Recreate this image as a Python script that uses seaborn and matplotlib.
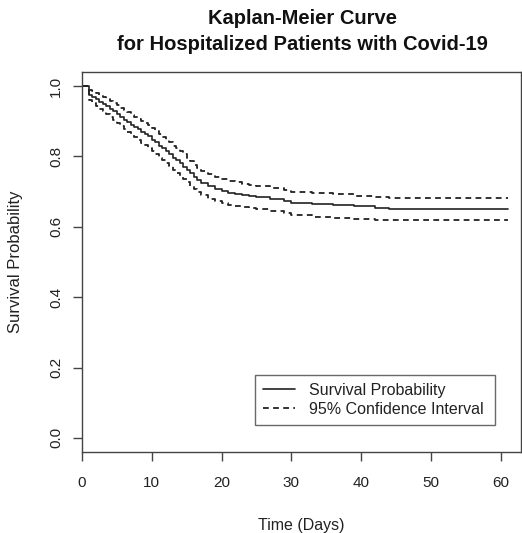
import matplotlib
matplotlib.use("Agg")
import matplotlib.pyplot as plt
import seaborn as sns
import pandas as pd

# ---- data ----
days = [0, 1, 1.5, 2, 2.5, 3, 3.5, 4, 4.5, 5, 5.5, 6, 6.5, 7, 7.5, 8, 8.5, 9, 9.5,
        10, 10.5, 11, 11.5, 12, 12.5, 13, 13.5, 14, 14.5, 15, 15.5, 16, 16.5, 17,
        18, 19, 20, 21, 22, 23, 24, 25, 27, 29, 30, 33, 36, 39, 42, 44, 48, 61]
survival = [1.0, 0.975, 0.97, 0.962, 0.955, 0.948, 0.942, 0.935, 0.928, 0.92, 0.913,
            0.905, 0.898, 0.89, 0.884, 0.877, 0.87, 0.864, 0.857, 0.848, 0.84, 0.83,
            0.823, 0.815, 0.806, 0.797, 0.789, 0.78, 0.771, 0.762, 0.752, 0.742,
            0.733, 0.725, 0.715, 0.708, 0.702, 0.697, 0.694, 0.69, 0.687, 0.684,
            0.68, 0.673, 0.669, 0.664, 0.661, 0.658, 0.654, 0.652, 0.65, 0.65]
upper_ci = [1.0, 0.99, 0.986, 0.98, 0.975, 0.969, 0.964, 0.958, 0.952, 0.945, 0.939,
            0.932, 0.926, 0.919, 0.913, 0.907, 0.9, 0.894, 0.888, 0.88, 0.872, 0.863,
            0.856, 0.848, 0.84, 0.831, 0.823, 0.815, 0.806, 0.797, 0.787, 0.777,
            0.768, 0.76, 0.75, 0.742, 0.735, 0.73, 0.726, 0.722, 0.718, 0.715,
            0.71, 0.704, 0.7, 0.695, 0.692, 0.688, 0.685, 0.683, 0.681, 0.681]
lower_ci = [1.0, 0.96, 0.953, 0.944, 0.936, 0.928, 0.92, 0.912, 0.904, 0.895, 0.887,
            0.878, 0.87, 0.861, 0.854, 0.846, 0.839, 0.832, 0.825, 0.815, 0.807, 0.797,
            0.789, 0.781, 0.772, 0.762, 0.754, 0.745, 0.736, 0.727, 0.717, 0.707,
            0.698, 0.69, 0.68, 0.673, 0.667, 0.662, 0.659, 0.656, 0.653, 0.65,
            0.645, 0.638, 0.634, 0.629, 0.626, 0.623, 0.62, 0.619, 0.618, 0.618]
x_ticks = [0, 10, 20, 30, 40, 50, 60]
y_ticks = [0.0, 0.2, 0.4, 0.6, 0.8, 1.0]

df = pd.DataFrame({"days": days, "survival": survival,
                   "upper": upper_ci, "lower": lower_ci})

sns.set_style("white")
plt.rcParams["font.family"] = ["Liberation Sans", "DejaVu Sans"]

fig = plt.figure(figsize=(5.22, 5.33), dpi=100)
ax = fig.add_axes([82 / 522, 1 - 452 / 533, 440 / 522 - 0.001, 380 / 533])

line_col = "#222222"
sns.lineplot(data=df, x="days", y="survival", ax=ax, color=line_col,
             linewidth=1.2, drawstyle="steps-post", label="Survival Probability")
sns.lineplot(data=df, x="days", y="upper", ax=ax, color=line_col,
             linewidth=1.3, drawstyle="steps-post", linestyle=(0, (3.2, 2.4)),
             label="95% Confidence Interval")
sns.lineplot(data=df, x="days", y="lower", ax=ax, color=line_col,
             linewidth=1.3, drawstyle="steps-post", linestyle=(0, (3.2, 2.4)))

ax.set_xlim(0, 63)
ax.set_ylim(-0.04, 1.04)
ax.set_xticks(x_ticks)
ax.set_yticks(y_ticks)
ax.set_xticklabels([str(v) for v in x_ticks])
ax.set_yticklabels([f"{v:.1f}" for v in y_ticks], rotation=90, va="center")

for s in ax.spines.values():
    s.set_visible(True)
    s.set_color("#444444")
    s.set_linewidth(1.0)

ax.tick_params(axis="both", direction="out", length=6.5, width=1.0,
               color="#444444", labelsize=11, labelcolor="#222222",
               left=True, bottom=True)
ax.tick_params(axis="x", pad=11)
ax.tick_params(axis="y", pad=7)

ax.set_xlabel("Time (Days)", fontsize=11.5, color="#222222", labelpad=20)
ax.set_ylabel("Survival Probability", fontsize=12, color="#222222", labelpad=19)

fig.text(302 / 522, 1 - 18 / 533, "Kaplan-Meier Curve", ha="center", va="center",
         fontsize=14.5, fontweight="bold", color="#111111")
fig.text(302 / 522, 1 - 44 / 533, "for Hospitalized Patients with Covid-19",
         ha="center", va="center", fontsize=14.5, fontweight="bold", color="#111111")

leg = ax.legend(loc="lower left", bbox_to_anchor=(0.393, 0.071, 0.546, 0.126),
                mode="expand", fontsize=11.5, frameon=True, fancybox=False,
                edgecolor="#444444", handlelength=2.0, handletextpad=0.9,
                borderaxespad=0, labelspacing=0.25, borderpad=0.5)
leg.get_frame().set_linewidth(1.0)
for t in leg.get_texts():
    t.set_color("#222222")

fig.savefig("out.png", dpi=100)
